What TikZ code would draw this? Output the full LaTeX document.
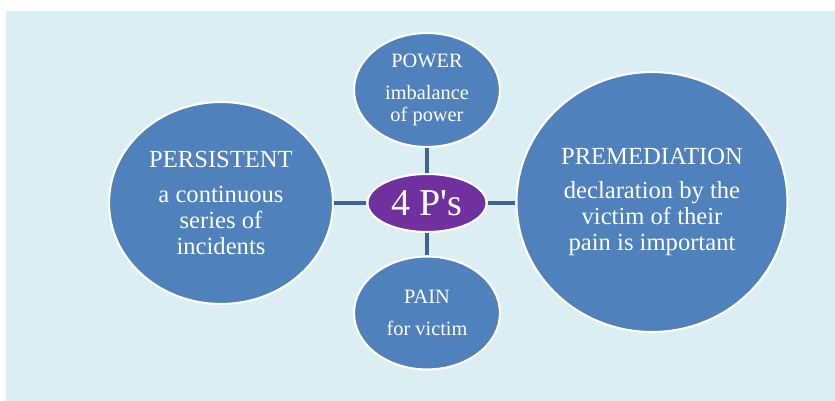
\documentclass[tikz,border=0pt]{standalone}
\usepackage{fontspec}
\setmainfont{Liberation Serif}
\definecolor{bgblue}{RGB}{219, 238, 244}
\definecolor{pblue}{RGB}{79, 129, 189}
\definecolor{ppurple}{RGB}{112, 48, 160}
\definecolor{linkblue}{RGB}{62, 100, 145}
\usetikzlibrary{shapes.geometric}

\begin{document}
\begin{tikzpicture}[
  pbubble/.style={ellipse, draw=white, line width=1.5pt, fill=pblue, text=white, align=center, inner sep=0pt},
  bigfont/.style={font=\fontsize{17.5}{18.5}\selectfont},
  smallfont/.style={font=\fontsize{14.5}{15.8}\selectfont},
  link/.style={draw=linkblue, line width=2.2pt}
]
  \useasboundingbox (0, 0) rectangle (20.875, 10.025);
  \fill[bgblue] (0.15, 0) rectangle (20.875, 9.75);

  % Centre
  \node[pbubble, fill=ppurple, minimum width=2.975cm, minimum height=1.45cm, font=\fontsize{27}{30}\selectfont] (fourps) at (10.675, 4.95) {4 P\textquotesingle s};

  % The four P's
  \node[pbubble, bigfont, minimum width=5.6cm, minimum height=5.05cm] (persistent) at (5.525, 4.95) {
    PERSISTENT\\[6pt]
    a continuous\\
    series of\\
    incidents
  };
  \node[pbubble, smallfont, minimum width=3.65cm, minimum height=2.85cm] (power) at (10.675, 7.775) {
    POWER\\[7pt]
    imbalance\\
    of power
  };
  \node[pbubble, smallfont, minimum width=3.65cm, minimum height=2.825cm] (pain) at (10.675, 2.2) {
    PAIN\\[7pt]
    for victim
  };
  \node[pbubble, bigfont, minimum width=6.775cm, minimum height=6.5cm] (premed) at (16.3, 4.975) {
    PREMEDIATION\\[6pt]
    declaration by the\\
    victim of their\\
    pain is important
  };

  \draw[link] (persistent) -- (fourps);
  \draw[link] (power) -- (fourps);
  \draw[link] (pain) -- (fourps);
  \draw[link] (fourps.east) -- (fourps.east -| premed.west);
\end{tikzpicture}
\end{document}
